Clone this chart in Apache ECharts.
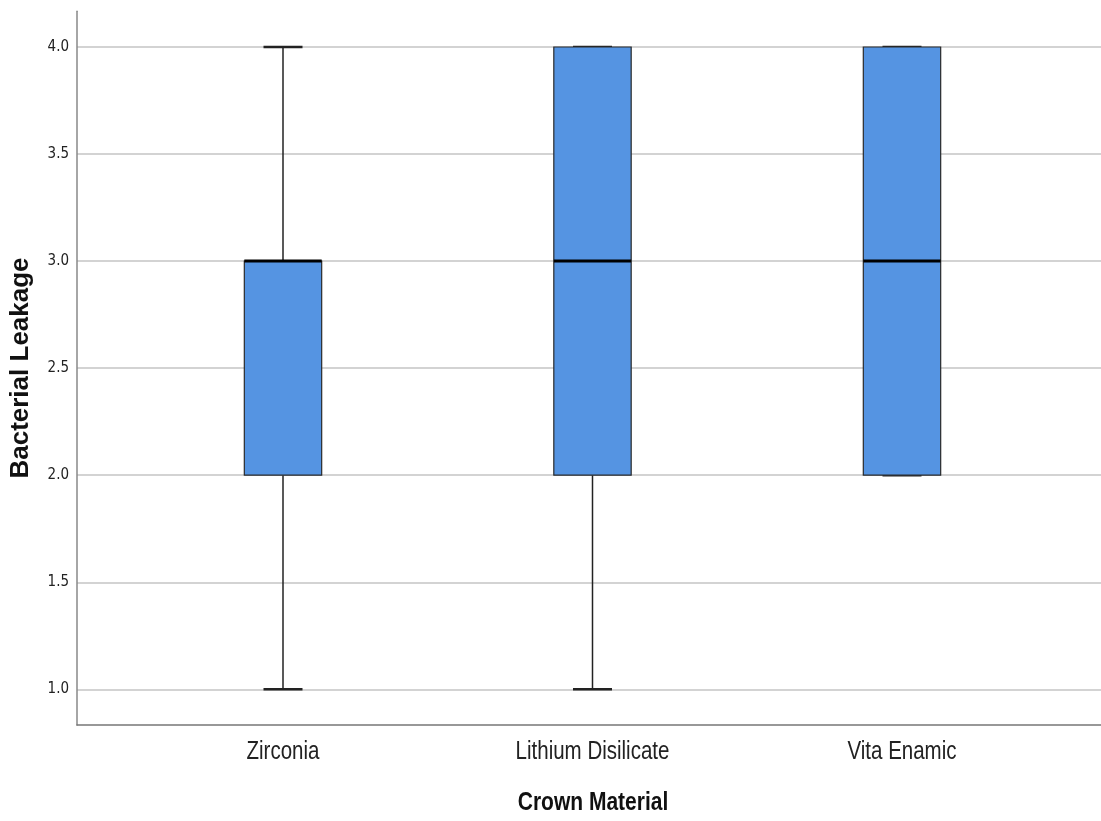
<!DOCTYPE html>
<html>
<head>
<meta charset="utf-8">
<script src="https://cdn.jsdelivr.net/npm/echarts@6/dist/echarts.min.js"></script>
<style>html,body{margin:0;padding:0;background:#fff}#c{width:1101px;height:821px}</style>
</head>
<body>
<div id="c"></div>
<script>
const categories = ['Zirconia', 'Lithium Disilicate', 'Vita Enamic'];
const minValues = [1, 1, 2];
const q1Values = [2, 2, 2];
const medianValues = [3, 3, 3];
const q3Values = [3, 4, 4];
const maxValues = [4, 4, 4];
const yTicks = [1.0, 1.5, 2.0, 2.5, 3.0, 3.5, 4.0];
const xPositions = [1, 2, 3];

const NARROW = "'DejaVu Sans Condensed', 'Liberation Sans Narrow', sans-serif";
const SANS = "'Liberation Sans', Arial, sans-serif";

const data = categories.map((c, i) => [xPositions[i], minValues[i], q1Values[i], medianValues[i], q3Values[i], maxValues[i]]);

const chart = echarts.init(document.getElementById('c'), null, {renderer: 'canvas'});
chart.setOption({
  animation: false,
  backgroundColor: '#fff',
  grid: {left: 77, right: 0, top: 11.3, bottom: 96, containLabel: false},
  xAxis: {
    type: 'value', min: 0.3344, max: 3.643,
    axisLine: {show: true, lineStyle: {color: '#777', width: 1.5}},
    axisTick: {show: false, customValues: xPositions},
    splitLine: {show: false},
    axisLabel: {show: false}
  },
  yAxis: {
    type: 'value', min: 5 / 6, max: 25 / 6,
    axisLine: {show: true, lineStyle: {color: '#888', width: 1.5}},
    axisTick: {show: false, customValues: yTicks},
    splitLine: {show: true, lineStyle: {color: '#d3d3d3', width: 2}},
    axisLabel: {
      customValues: yTicks,
      formatter: v => v.toFixed(1),
      fontFamily: NARROW, fontSize: 15, color: '#222', margin: 8
    }
  },
  graphic: [
    {id: 'ytitle', type: 'text', x: 21, y: 368, rotation: Math.PI / 2,
     style: {text: 'Bacterial Leakage', font: 'bold 26px ' + SANS, fill: '#111', align: 'center', verticalAlign: 'middle'}},
    {id: 'xtitle', type: 'text', x: 593, y: 803, scaleX: 0.84,
     style: {text: 'Crown Material', font: 'bold 25px ' + SANS, fill: '#111', align: 'center', verticalAlign: 'middle'}}
  ],
  series: [{
    type: 'custom',
    data: data,
    encode: {x: 0, y: [1, 2, 3, 4, 5]},
    renderItem: function (params, api) {
      const x = api.value(0);
      const pMin = api.coord([x, api.value(1)]);
      const pQ1 = api.coord([x, api.value(2)]);
      const pMed = api.coord([x, api.value(3)]);
      const pQ3 = api.coord([x, api.value(4)]);
      const pMax = api.coord([x, api.value(5)]);
      const boxW = api.size([0.25, 0])[0];
      const capW = api.size([0.126, 0])[0];
      const cx = pQ1[0];
      const children = [
        {type: 'line', shape: {x1: cx, y1: pMin[1], x2: cx, y2: pQ1[1]}, style: {stroke: '#222', lineWidth: 1.5}},
        {type: 'line', shape: {x1: cx, y1: pQ3[1], x2: cx, y2: pMax[1]}, style: {stroke: '#222', lineWidth: 1.5}},
        {type: 'line', shape: {x1: cx - capW / 2, y1: pMin[1], x2: cx + capW / 2, y2: pMin[1]}, style: {stroke: '#222', lineWidth: 2.5}},
        {type: 'line', shape: {x1: cx - capW / 2, y1: pMax[1], x2: cx + capW / 2, y2: pMax[1]}, style: {stroke: '#222', lineWidth: 2.5}},
        {type: 'rect', shape: {x: cx - boxW / 2, y: pQ3[1], width: boxW, height: pQ1[1] - pQ3[1]}, style: {fill: '#5594E2', stroke: '#2a2a2a', lineWidth: 1.2}},
        {type: 'line', shape: {x1: cx - boxW / 2, y1: pMed[1], x2: cx + boxW / 2, y2: pMed[1]}, style: {stroke: '#000', lineWidth: 3}}
      ];
      return {type: 'group', children: children};
    }
  }]
});

// Category labels placed through the x axis scale (narrowed like the original)
const axisBottom = chart.convertToPixel({gridIndex: 0}, [0.3344, 5 / 6])[1];
const catLabels = categories.map((name, i) => {
  const px = chart.convertToPixel({xAxisIndex: 0}, xPositions[i]);
  return {id: 'cat' + i, type: 'text', x: px, y: axisBottom + 27, scaleX: 0.82,
    style: {text: name, font: '25px ' + SANS, fill: '#222', align: 'center', verticalAlign: 'middle'}};
});
chart.setOption({graphic: catLabels});
</script>
</body>
</html>
